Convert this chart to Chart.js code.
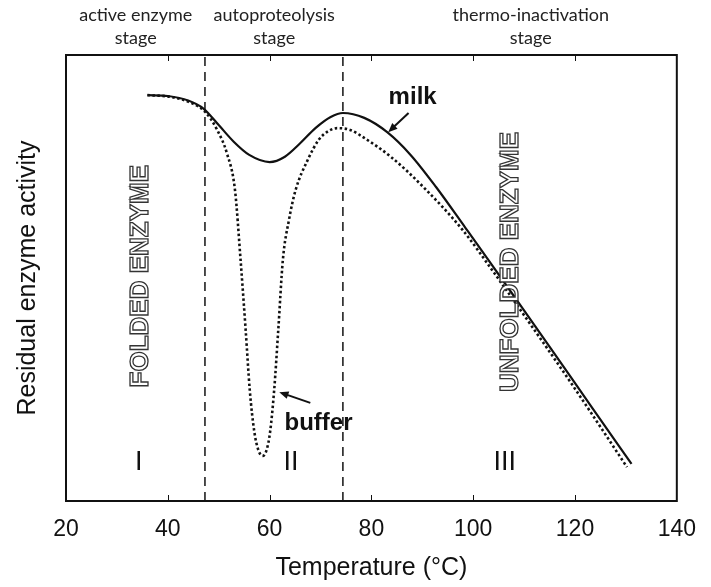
<!DOCTYPE html>
<html>
<head>
<meta charset="utf-8">
<script src="https://cdn.jsdelivr.net/npm/chart.js@4.4.0/dist/chart.umd.min.js"></script>
<style>
  html, body { margin: 0; padding: 0; background: #fff; }
</style>
</head>
<body>
<canvas id="chart" width="711" height="587"></canvas>
<script>
// curves (temperature in °C, activity in % of plot height)
const milkTemp = [36, 40, 44, 47, 50, 53, 56, 60, 63, 66, 69, 72, 74.4, 78.6, 83.1, 87.7, 92.7, 98.5, 103.7, 109.5, 115.3, 123, 131.1];
const milkActivity = [91.0, 90.8, 89.8, 88.0, 84.3, 80.5, 77.6, 76.0, 77.2, 80.2, 83.6, 86.1, 87.0, 85.9, 82.7, 77.6, 70.4, 61.2, 52.9, 43.5, 34.1, 21.5, 8.3];

const bufferTemp = [36, 40.6, 44.7, 47.4, 49.7, 51.6, 53.2, 54.3, 55.3, 56.1, 57.0, 57.8, 58.6, 59.4, 60.1, 60.9, 61.7, 62.6, 63.8, 65.1, 67.5, 69.6, 71.5, 73.3, 75.8, 78.6, 83.9, 90.2, 97.9, 103.7, 111.5, 119.2, 125, 130.2];
const bufferActivity = [91.0, 90.6, 89.2, 87.2, 83.2, 78.0, 69.7, 54.0, 38.3, 24.9, 15.5, 11.4, 10.1, 11.4, 15.5, 24.9, 38.3, 54.0, 63.0, 69.7, 76.5, 80.9, 82.9, 83.6, 83.2, 81.4, 77.1, 70.4, 60.8, 51.8, 39.2, 26.5, 16.6, 7.6];

const stageBounds = [47.3, 74.4];
const xTicks = [20, 40, 60, 80, 100, 120, 140];
const stageNames = [["active enzyme", "stage"], ["autoproteolysis", "stage"], ["thermo-inactivation", "stage"]];
const stageNumbers = ["I", "II", "III"];

const toPoints = (xs, ys) => xs.map((x, i) => ({ x: x, y: ys[i] }));

const boundSets = stageBounds.map(t => ({
    data: [{ x: t, y: 0 }, { x: t, y: 100 }],
    borderColor: "#111",
    borderWidth: 1.5,
    borderDash: [9, 6],
    pointRadius: 0
}));

function arrow(ctx, x1, y1, x2, y2) {
    const a = Math.atan2(y2 - y1, x2 - x1);
    ctx.beginPath();
    ctx.moveTo(x1, y1);
    ctx.lineTo(x2 - 6 * Math.cos(a), y2 - 6 * Math.sin(a));
    ctx.lineWidth = 2;
    ctx.stroke();
    ctx.beginPath();
    ctx.moveTo(x2, y2);
    ctx.lineTo(x2 - 10 * Math.cos(a - 0.4), y2 - 10 * Math.sin(a - 0.4));
    ctx.lineTo(x2 - 10 * Math.cos(a + 0.4), y2 - 10 * Math.sin(a + 0.4));
    ctx.closePath();
    ctx.fill();
}

const notes = {
    id: "notes",
    afterDraw(chart) {
        const ctx = chart.ctx;
        const xs = chart.scales.x;
        const ys = chart.scales.y;
        const a = chart.chartArea;
        ctx.save();

        // frame
        ctx.strokeStyle = "#111";
        ctx.lineWidth = 2;
        ctx.strokeRect(a.left, a.top, a.right - a.left, a.bottom - a.top);

        // inner ticks top and bottom
        ctx.lineWidth = 1;
        xTicks.slice(1, -1).forEach(t => {
            const px = Math.round(xs.getPixelForValue(t)) + 0.5;
            ctx.beginPath();
            ctx.moveTo(px, a.bottom); ctx.lineTo(px, a.bottom - 6);
            ctx.moveTo(px, a.top); ctx.lineTo(px, a.top + 6);
            ctx.stroke();
        });

        // stage names above the frame
        ctx.fillStyle = "#222";
        ctx.font = "18px Lato";
        ctx.textAlign = "center";
        ctx.textBaseline = "middle";
        [33.7, 60.9, 111.3].forEach((t, i) => {
            const px = xs.getPixelForValue(t);
            ctx.fillText(stageNames[i][0], px, a.top - 40);
            ctx.fillText(stageNames[i][1], px, a.top - 17);
        });

        // roman numerals
        ctx.fillStyle = "#111";
        ctx.font = "27px 'Liberation Sans'";
        [34.3, 64.2, 106.2].forEach((t, i) => {
            ctx.fillText(stageNumbers[i], xs.getPixelForValue(t), ys.getPixelForValue(8.7));
        });

        // outlined vertical labels
        ctx.font = "bold 26px 'Liberation Sans'";
        ctx.strokeStyle = "#333";
        ctx.lineWidth = 1.3;
        [[34.7, 50.4, "FOLDED ENZYME"], [107.4, 53.6, "UNFOLDED ENZYME"]].forEach(n => {
            ctx.save();
            ctx.translate(xs.getPixelForValue(n[0]), ys.getPixelForValue(n[1]));
            ctx.rotate(-Math.PI / 2);
            ctx.fillStyle = "#fff";
            ctx.fillText(n[2], 0, 0);
            ctx.strokeText(n[2], 0, 0);
            ctx.restore();
        });

        // series labels with arrows
        ctx.fillStyle = "#111";
        ctx.strokeStyle = "#111";
        ctx.font = "bold 24px 'Liberation Sans'";
        ctx.fillText("milk", xs.getPixelForValue(88.1), ys.getPixelForValue(90.6));
        ctx.fillText("buffer", xs.getPixelForValue(69.6), ys.getPixelForValue(17.3));
        arrow(ctx, xs.getPixelForValue(87.3), ys.getPixelForValue(87.0),
                   xs.getPixelForValue(83.3), ys.getPixelForValue(82.7));
        arrow(ctx, xs.getPixelForValue(68.0), ys.getPixelForValue(22.0),
                   xs.getPixelForValue(61.9), ys.getPixelForValue(24.4));

        ctx.restore();
    }
};

new Chart(document.getElementById("chart"), {
    type: "line",
    data: {
        datasets: [
            {
                label: "milk",
                data: toPoints(milkTemp, milkActivity),
                borderColor: "#111",
                borderWidth: 2.2,
                pointRadius: 0,
                cubicInterpolationMode: "monotone"
            },
            {
                label: "buffer",
                data: toPoints(bufferTemp, bufferActivity),
                borderColor: "#111",
                borderWidth: 2.6,
                borderDash: [2.5, 2.5],
                pointRadius: 0,
                cubicInterpolationMode: "monotone"
            },
            ...boundSets
        ]
    },
    options: {
        responsive: false,
        animation: false,
        layout: { padding: { top: 55, right: 23, left: 0, bottom: 0 } },
        plugins: { legend: { display: false }, tooltip: { enabled: false } },
        scales: {
            x: {
                type: "linear",
                min: 20,
                max: 140,
                afterFit: s => { s.height = 86; },
                afterBuildTicks: s => { s.ticks = xTicks.map(v => ({ value: v })); },
                grid: { display: false, drawTicks: false },
                border: { display: false },
                ticks: { color: "#111", padding: 15, font: { family: "Liberation Sans", size: 23 } },
                title: {
                    display: true,
                    text: "Temperature (°C)",
                    color: "#111",
                    font: { family: "Liberation Sans", size: 25 },
                    padding: { top: 0, bottom: 4 }
                }
            },
            y: {
                min: 0,
                max: 100,
                afterFit: s => { s.width = 66; },
                grid: { display: false },
                border: { display: false },
                ticks: { display: false },
                title: {
                    display: true,
                    text: "Residual enzyme activity",
                    color: "#111",
                    font: { family: "Liberation Sans", size: 25 },
                    padding: { top: 13, bottom: 0 }
                }
            }
        }
    },
    plugins: [notes]
});
</script>
</body>
</html>
